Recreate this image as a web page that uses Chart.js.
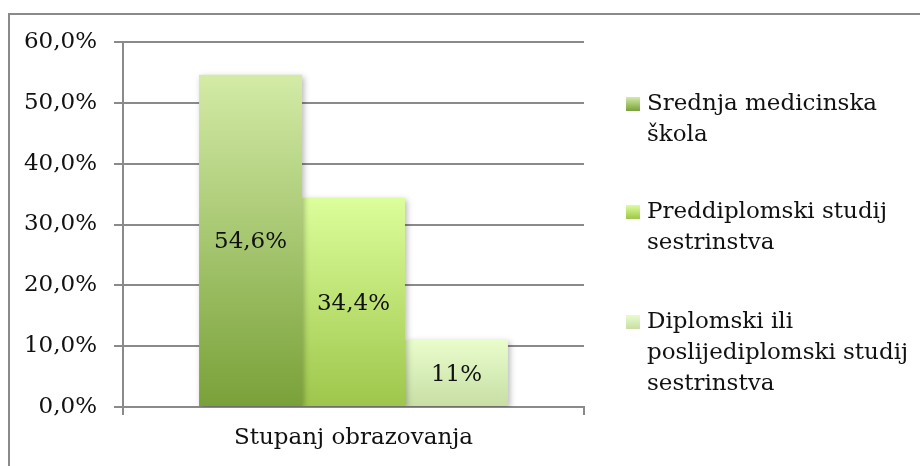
<!DOCTYPE html>
<html>
<head>
<meta charset="utf-8">
<script src="https://cdn.jsdelivr.net/npm/chart.js@4"></script>
<style>
  html, body { margin: 0; padding: 0; background: #fff; }
  #wrap { position: relative; width: 920px; height: 466px; }
  #frame { position: absolute; left: 8px; top: 13px; width: 930px; height: 470px; border: 2px solid #8a8a8a; box-sizing: border-box; }
</style>
</head>
<body>
<div id="wrap">
  <div id="frame"></div>
  <canvas id="chart" width="920" height="466"></canvas>
</div>
<script>
// Chart data
const categories = ['Stupanj obrazovanja'];
const seriesNames = [
    ['Srednja medicinska', 'škola'],
    ['Preddiplomski studij', 'sestrinstva'],
    ['Diplomski ili', 'poslijediplomski studij', 'sestrinstva']
];
const seriesValues = [54.6, 34.4, 11];
const valueLabels = ['54,6%', '34,4%', '11%'];
const yTicks = [0, 10, 20, 30, 40, 50, 60];

// gradient colours per series: [top, bottom]
const gradColors = [
    ['#d3eba6', '#79a139'],
    ['#dcfe9b', '#9ec64b'],
    ['#e8fdcb', '#c8dea5']
];

const FONT = '"DejaVu Serif", "Liberation Serif", serif';
const FONT_SIZE = 23;

function barGradient(i) {
    return function (context) {
        const chart = context.chart;
        const area = chart.chartArea;
        if (!area) return gradColors[i][1];
        const yScale = chart.scales.y;
        const top = yScale.getPixelForValue(seriesValues[i]);
        const g = chart.ctx.createLinearGradient(0, top, 0, area.bottom);
        g.addColorStop(0, gradColors[i][0]);
        g.addColorStop(1, gradColors[i][1]);
        return g;
    };
}

// soft shadow under bars
const shadowPlugin = {
    id: 'barShadow',
    beforeDatasetsDraw(chart) {
        const ctx = chart.ctx;
        ctx.save();
        ctx.shadowColor = 'rgba(0,0,0,0.28)';
        ctx.shadowBlur = 6;
        ctx.shadowOffsetX = 2;
        ctx.shadowOffsetY = 2;
    },
    afterDatasetsDraw(chart) {
        chart.ctx.restore();
    }
};

// value labels in the middle of each bar
const valueLabelPlugin = {
    id: 'valueLabels',
    afterDatasetsDraw(chart) {
        const ctx = chart.ctx;
        ctx.save();
        ctx.font = FONT_SIZE + 'px ' + FONT;
        ctx.fillStyle = '#111';
        ctx.textAlign = 'center';
        ctx.textBaseline = 'middle';
        chart.data.datasets.forEach((ds, i) => {
            const bar = chart.getDatasetMeta(i).data[0];
            const props = bar.getProps(['x', 'y', 'base'], true);
            ctx.fillText(valueLabels[i], props.x, (props.y + props.base) / 2 + 2);
        });
        ctx.restore();
    }
};

// legend with wrapped text on the right
const sideLegendPlugin = {
    id: 'sideLegend',
    afterDraw(chart) {
        const ctx = chart.ctx;
        const x0 = 626, box = 14, textX = 647, lineH = 31;
        const startY = [104, 212, 322];
        ctx.save();
        ctx.font = FONT_SIZE + 'px ' + FONT;
        ctx.textBaseline = 'middle';
        ctx.textAlign = 'left';
        seriesNames.forEach((lines, i) => {
            const y = startY[i];
            const g = ctx.createLinearGradient(0, y - box / 2, 0, y + box / 2);
            g.addColorStop(0, gradColors[i][0]);
            g.addColorStop(1, gradColors[i][1]);
            ctx.fillStyle = g;
            ctx.fillRect(x0, y - box / 2, box, box);
            ctx.fillStyle = '#111';
            lines.forEach((t, k) => ctx.fillText(t, textX, y + k * lineH));
        });
        ctx.restore();
    }
};

new Chart(document.getElementById('chart'), {
    type: 'bar',
    data: {
        labels: categories,
        datasets: seriesValues.map((v, i) => ({
            label: seriesNames[i].join(' '),
            data: [v],
            backgroundColor: barGradient(i),
            borderWidth: 0,
            categoryPercentage: 0.67,
            barPercentage: 1.0
        }))
    },
    options: {
        responsive: false,
        animation: false,
        layout: { padding: { top: 42, right: 336, bottom: 0, left: 0 } },
        plugins: {
            legend: { display: false },
            tooltip: { enabled: false }
        },
        scales: {
            x: {
                afterFit(scale) { scale.height = 59; },
                grid: {
                    offset: true,
                    drawOnChartArea: false,
                    drawTicks: true,
                    tickLength: 8,
                    color: '#8a8a8a',
                    lineWidth: 2
                },
                border: { display: true, color: '#8a8a8a', width: 2 },
                ticks: {
                    color: '#111',
                    font: { family: FONT, size: FONT_SIZE },
                    padding: 9
                }
            },
            y: {
                min: 0,
                max: 60,
                afterFit(scale) { scale.width = 123; },
                afterBuildTicks(scale) { scale.ticks = yTicks.map(v => ({ value: v })); },
                grid: {
                    color: '#8a8a8a',
                    lineWidth: 2,
                    drawTicks: true,
                    tickLength: 9
                },
                border: { display: true, color: '#8a8a8a', width: 2 },
                ticks: {
                    color: '#111',
                    font: { family: FONT, size: FONT_SIZE },
                    padding: 17,
                    callback: v => v.toFixed(1).replace('.', ',') + '%'
                }
            }
        }
    },
    plugins: [shadowPlugin, valueLabelPlugin, sideLegendPlugin]
});
</script>
</body>
</html>
